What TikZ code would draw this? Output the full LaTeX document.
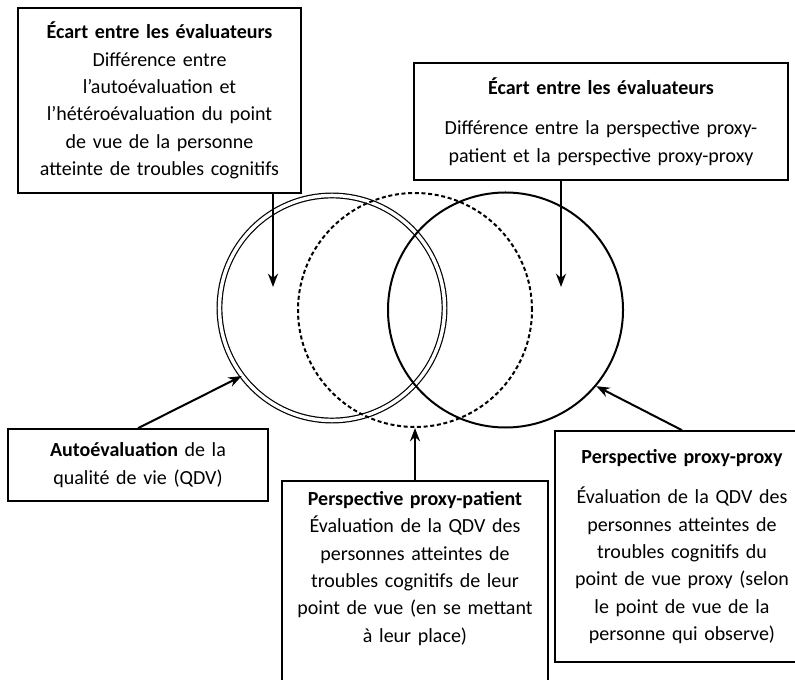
\documentclass[tikz,border=0pt]{standalone}
\usepackage{fontspec}
\setmainfont{Carlito}
\usetikzlibrary{arrows.meta,positioning}

\begin{document}
\begin{tikzpicture}[
    x=0.75pt, y=-0.75pt,
    every node/.style={font=\fontsize{15}{20.5}\selectfont},
    box/.style={rectangle, draw=black, line width=1.2pt, fill=white, align=center},
    cercle/.style={circle, draw=black, line width=1.5pt},
    arrow/.style={-{Stealth[length=10pt, width=7.5pt]}, line width=1.5pt}
]
    \path[use as bounding box] (0,0) rectangle (795,680);
    \clip (0,0) rectangle (795,680);

    % les trois cercles
    \node[cercle, minimum size=168.8pt, line width=0.9pt, double, double distance=2.6pt] (soi) at (332,308) {};
    \node[cercle, minimum size=175.5pt, dash pattern=on 3pt off 2pt] (patient) at (415,310) {};
    \node[cercle, minimum size=176.25pt] (proxy) at (505.5,310) {};

    % encadres
    \node[box, minimum width=212.25pt, minimum height=138.75pt, text width=205pt] (ecartsoi) at (159.5,100.5)
        {\textbf{Écart entre les évaluateurs}\\ Différence entre\\ l’autoévaluation et\\ l’hétéroévaluation du point\\ de vue de la personne\\ atteinte de troubles cognitifs};
    \node[box, minimum width=280.5pt, minimum height=87.75pt, text width=270pt] (ecartproxy) at (601,121.5)
        {\textbf{Écart entre les évaluateurs}\\[10pt] Différence entre la perspective proxy-\\patient et la perspective proxy-proxy};
    \node[box, minimum width=195pt, minimum height=54pt, text width=185pt] (autoeval) at (138,465)
        {\textbf{Autoévaluation} de la\\ qualité de vie (QDV)};
    \node[box, anchor=north, minimum width=199.5pt, text width=192pt, inner ysep=8pt] (proxypatient) at (415,480)
        {\textbf{Perspective proxy-patient}\\ Évaluation de la QDV des\\ personnes atteintes de\\ troubles cognitifs de leur\\ point de vue (en se mettant\\ à leur place)\\[30pt]\mbox{}};
    \node[box, minimum width=190.5pt, minimum height=173.25pt, text width=182pt] (proxyproxy) at (682,546.5)
        {\textbf{Perspective proxy-proxy}\\[10pt] Évaluation de la QDV des\\ personnes atteintes de\\ troubles cognitifs du\\ point de vue proxy (selon\\ le point de vue de la\\ personne qui observe)};

    % fleches
    \coordinate (cibleSoi) at (273,287);
    \coordinate (cibleProxy) at (561,287);
    \draw[arrow] (ecartsoi.south -| cibleSoi) -- (cibleSoi);
    \draw[arrow] (ecartproxy.south -| cibleProxy) -- (cibleProxy);
    \draw[arrow] (autoeval.north) -- (soi.217);
    \draw[arrow] (proxypatient.north) -- (patient.south);
    \draw[arrow] (proxyproxy.north) -- (proxy.-40);
\end{tikzpicture}
\end{document}
